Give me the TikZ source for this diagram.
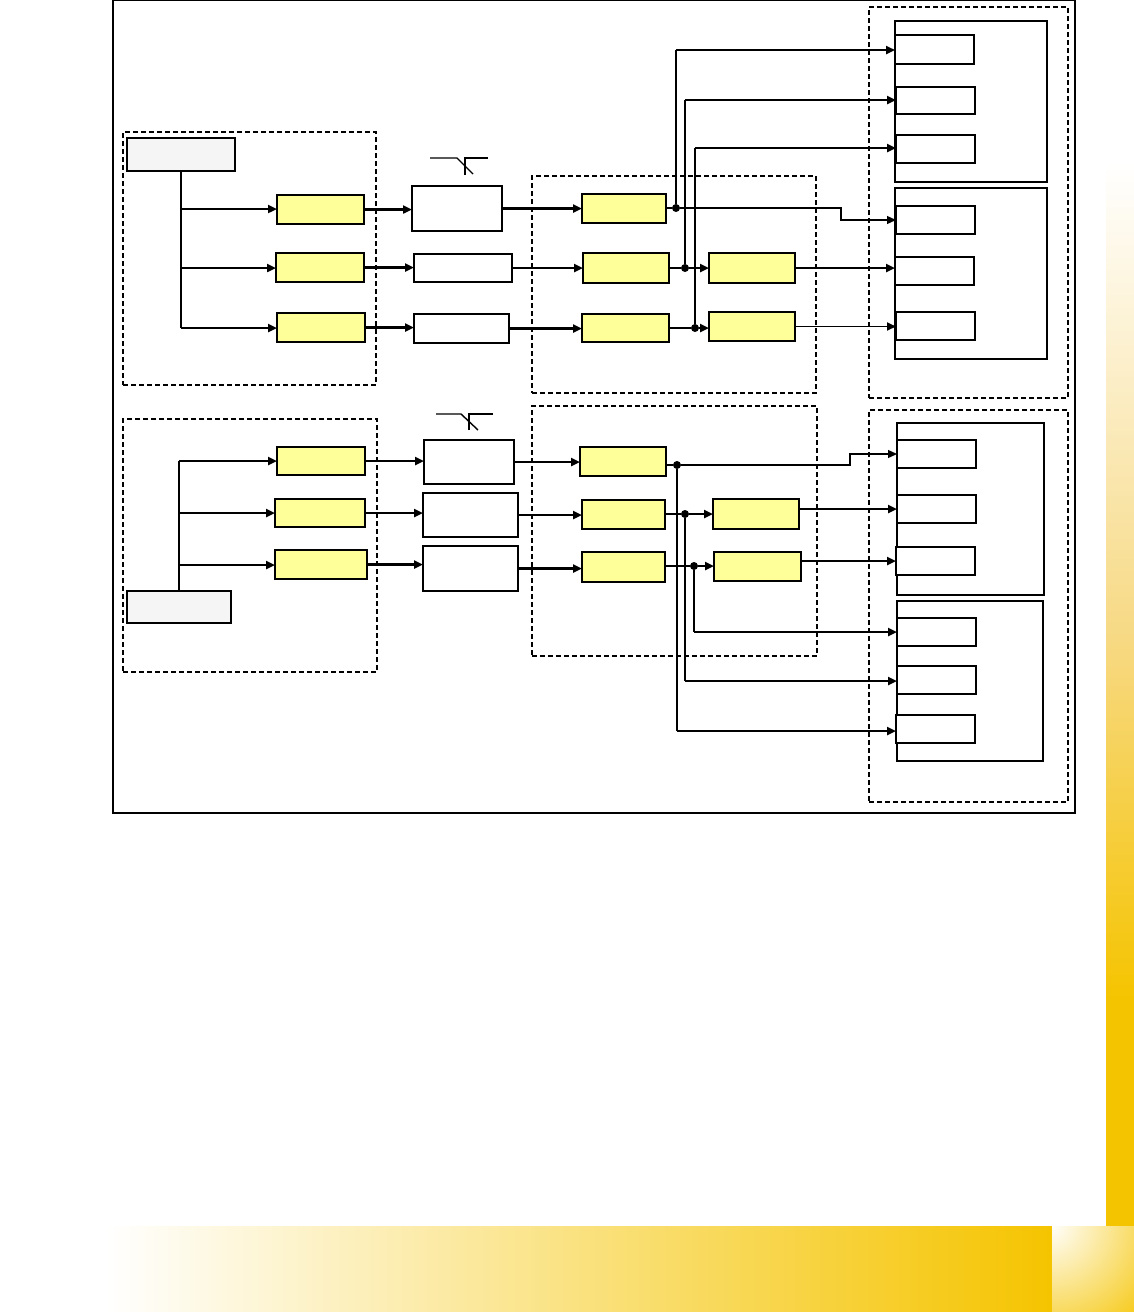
\documentclass[tikz,border=0pt]{standalone}
\usetikzlibrary{arrows.meta,fit}
\definecolor{boxyellow}{HTML}{FFFF99}
\definecolor{boxgray}{HTML}{F5F5F5}
\definecolor{gold}{HTML}{F5C400}
\definecolor{goldmid}{HTML}{F7D983}
\begin{document}
\begin{tikzpicture}[x=1pt,y=-1pt,
  ybox/.style={draw, fill=boxyellow, line width=1.6pt, inner sep=0pt, outer sep=0pt},
  wbox/.style={draw, fill=white, line width=1.5pt, inner sep=0pt, outer sep=0pt},
  gbox/.style={draw, fill=boxgray, line width=1.4pt, inner sep=0pt, outer sep=0pt},
  cbox/.style={draw, line width=1.2pt, inner sep=0pt, outer sep=0pt},
  dbox/.style={draw, dash pattern=on 5pt off 3pt, line width=2pt, inner sep=0pt, outer sep=0pt},
  thk/.style={line width=2.6pt},
  thn/.style={line width=1.3pt},
  arr/.style={-{Triangle[length=9pt,width=8pt]}},
  dot/.style={circle, fill=black, inner sep=0pt, minimum size=8pt},
]
\useasboundingbox (0,0) rectangle (1134,1312);

% decorative background
\shade[left color=white, right color=gold] (106,1226) rectangle (1052,1312);
\shade[top color=white, bottom color=goldmid] (1106,163) rectangle (1134,640);
\shade[top color=goldmid, bottom color=gold] (1106,640) rectangle (1134,1000);
\fill[gold] (1106,1000) rectangle (1134,1226.5);
\begin{scope}
  \clip (1052,1226) rectangle (1134,1312);
  \shade[inner color=white, outer color=gold] (1050,1224) circle (140pt);
\end{scope}

% main frame
\draw[line width=1.3pt] (113,0.7) rectangle (1075,813);

% dashed groups
\node[dbox, fit={(123,132) (376,385)}] (L1) {};
\node[dbox, fit={(532,176) (816,393)}] (M1) {};
\node[dbox, fit={(869,7) (1068,398)}] (R1) {};
\node[dbox, fit={(123,419) (377,672)}] (L2) {};
\node[dbox, fit={(532,406) (817,656)}] (M2) {};
\node[dbox, fit={(869,410) (1068,802)}] (R2) {};

% containers
\node[cbox, fit={(895,21) (1047,182)}] (C1) {};
\node[cbox, fit={(895,188) (1047,359)}] (C2) {};
\node[cbox, fit={(897,423) (1044,595)}] (C3) {};
\node[cbox, fit={(897,601) (1043,761)}] (C4) {};

% ---------- top half ----------
\node[gbox, fit={(127,138) (235,171)}] (g1) {};
\node[ybox, fit={(277,195) (364,224)}] (y1) {};
\node[ybox, fit={(276,253) (364,282)}] (y2) {};
\node[ybox, fit={(277,313) (365,342)}] (y3) {};
\node[wbox, fit={(412,186) (502,231)}] (w1) {};
\node[wbox, fit={(414,254) (512,282)}] (w2) {};
\node[wbox, fit={(414,314) (509,343)}] (w3) {};
\node[ybox, fit={(582,194) (666,223)}] (m1) {};
\node[ybox, fit={(583,253) (669,283)}] (m2) {};
\node[ybox, fit={(582,314) (669,342)}] (m3) {};
\node[ybox, fit={(709,253) (795,283)}] (n2) {};
\node[ybox, fit={(709,312) (795,341)}] (n3) {};
\node[wbox, fit={(895,35) (974,64)}] (r1a) {};
\node[wbox, fit={(896,87) (975,114)}] (r1b) {};
\node[wbox, fit={(896,135) (975,163)}] (r1c) {};
\node[wbox, fit={(896,206) (975,234)}] (r2a) {};
\node[wbox, fit={(895,257) (974,285)}] (r2b) {};
\node[wbox, fit={(896,312) (975,340)}] (r2c) {};

\coordinate (j1) at (181,209);
\coordinate (j2) at (181,268);
\coordinate (j3) at (181,328);
\draw[line width=2.8pt] (g1.south) -- (j3);
\draw[thk,arr] (j1) -- (j1 -| y1.west);
\draw[thk,arr] (j2) -- (j2 -| y2.west);
\draw[thk,arr] (j3) -- (j3 -| y3.west);
\draw[thk,arr] (y1.east) -- (y1.east -| w1.west);
\draw[thk,arr] (y2.east) -- (y2.east -| w2.west);
\draw[thk,arr] (y3.east) -- (y3.east -| w3.west);
\draw[thk,arr] (w1.east) -- (w1.east -| m1.west);
\draw[thk,arr] (w2.east) -- (w2.east -| m2.west);
\draw[thk,arr] (w3.east) -- (w3.east -| m3.west);

\node[dot] (d1) at (676,208) {};
\node[dot] (d2) at (685,268) {};
\node[dot] (d3) at (695,328) {};
\coordinate (e1) at (676,50);
\coordinate (e2) at (685,100);
\coordinate (e3) at (695,148);
\coordinate (k1) at (841,208);
\draw[thk] (d1 -| m1.east) -- (d1);
\draw[thk] (d2 -| m2.east) -- (d2);
\draw[thk] (d3 -| m3.east) -- (d3);
\draw[thk,arr] (d2) -- (d2 -| n2.west);
\draw[thk,arr] (d3) -- (d3 -| n3.west);
\draw[thn] (d1) -- (e1);
\draw[thn] (d2) -- (e2);
\draw[thn] (d3) -- (e3);
\draw[thk,arr] (e1) -- (e1 -| r1a.west);
\draw[thk,arr] (e2) -- (e2 -| r1b.west);
\draw[thk,arr] (e3) -- (e3 -| r1c.west);
\draw[thn,arr] (d1) -- (k1) |- (r2a.west);
\draw[thk,arr] (n2.east) -- (n2.east -| r2b.west);
\draw[line width=1.8pt,arr] (n3.east) -- (n3.east -| r2c.west);

\draw[line width=1.4pt] (430,158) -- (457,158) -- (473,174);
\draw[line width=1.4pt] (465,175) -- (465,158) -- (488,158);

% ---------- bottom half ----------
\node[gbox, fit={(127,591) (231,623)}] (g2) {};
\node[ybox, fit={(277,447) (365,475)}] (b1) {};
\node[ybox, fit={(275,499) (365,527)}] (b2) {};
\node[ybox, fit={(275,550) (367,579)}] (b3) {};
\node[wbox, fit={(424,440) (514,484)}] (v1) {};
\node[wbox, fit={(423,493) (518,537)}] (v2) {};
\node[wbox, fit={(423,546) (518,591)}] (v3) {};
\node[ybox, fit={(580,447) (666,476)}] (p1) {};
\node[ybox, fit={(582,500) (665,529)}] (p2) {};
\node[ybox, fit={(582,552) (665,582)}] (p3) {};
\node[ybox, fit={(713,499) (799,529)}] (q2) {};
\node[ybox, fit={(714,552) (801,581)}] (q3) {};
\node[wbox, fit={(897,440) (976,468)}] (s3a) {};
\node[wbox, fit={(897,495) (976,523)}] (s3b) {};
\node[wbox, fit={(896,547) (975,575)}] (s3c) {};
\node[wbox, fit={(897,618) (976,646)}] (s4a) {};
\node[wbox, fit={(897,666) (976,694)}] (s4b) {};
\node[wbox, fit={(896,715) (975,743)}] (s4c) {};

\coordinate (jb1) at (179,461);
\coordinate (jb2) at (179,513);
\coordinate (jb3) at (179,565);
\draw[line width=2.8pt] (g2.north) -- (jb1);
\draw[thk,arr] (jb1) -- (jb1 -| b1.west);
\draw[thk,arr] (jb2) -- (jb2 -| b2.west);
\draw[thk,arr] (jb3) -- (jb3 -| b3.west);
\draw[thk,arr] (b1.east) -- (b1.east -| v1.west);
\draw[thk,arr] (b2.east) -- (b2.east -| v2.west);
\draw[thk,arr] (b3.east) -- (b3.east -| v3.west);
\draw[thk,arr] (v1.east) -- (v1.east -| p1.west);
\draw[thk,arr] (v2.east) -- (v2.east -| p2.west);
\draw[thk,arr] (v3.east) -- (v3.east -| p3.west);

\node[dot] (dA) at (677,465) {};
\node[dot] (dB) at (685,514) {};
\node[dot] (dC) at (694,566) {};
\coordinate (fA) at (677,731);
\coordinate (fB) at (685,681);
\coordinate (fC) at (694,632);
\coordinate (kA) at (850,465);
\draw[thk] (dA -| p1.east) -- (dA);
\draw[thk] (dB -| p2.east) -- (dB);
\draw[thk] (dC -| p3.east) -- (dC);
\draw[thk,arr] (dB) -- (dB -| q2.west);
\draw[thk,arr] (dC) -- (dC -| q3.west);
\draw[thn,arr] (dA) -- (kA) |- (s3a.west);
\draw[thn] (dA) -- (fA);
\draw[thn] (dB) -- (fB);
\draw[thn] (dC) -- (fC);
\draw[thk,arr] (fA) -- (fA -| s4c.west);
\draw[thk,arr] (fB) -- (fB -| s4b.west);
\draw[thk,arr] (fC) -- (fC -| s4a.west);
\draw[thk,arr] (q2.east |- s3b.west) -- (s3b.west);
\draw[thk,arr] (q3.east |- s3c.west) -- (s3c.west);

\draw[line width=1.4pt] (436,414) -- (461,414) -- (478,430);
\draw[line width=1.4pt] (469,430) -- (469,414) -- (493,414);
\end{tikzpicture}
\end{document}
